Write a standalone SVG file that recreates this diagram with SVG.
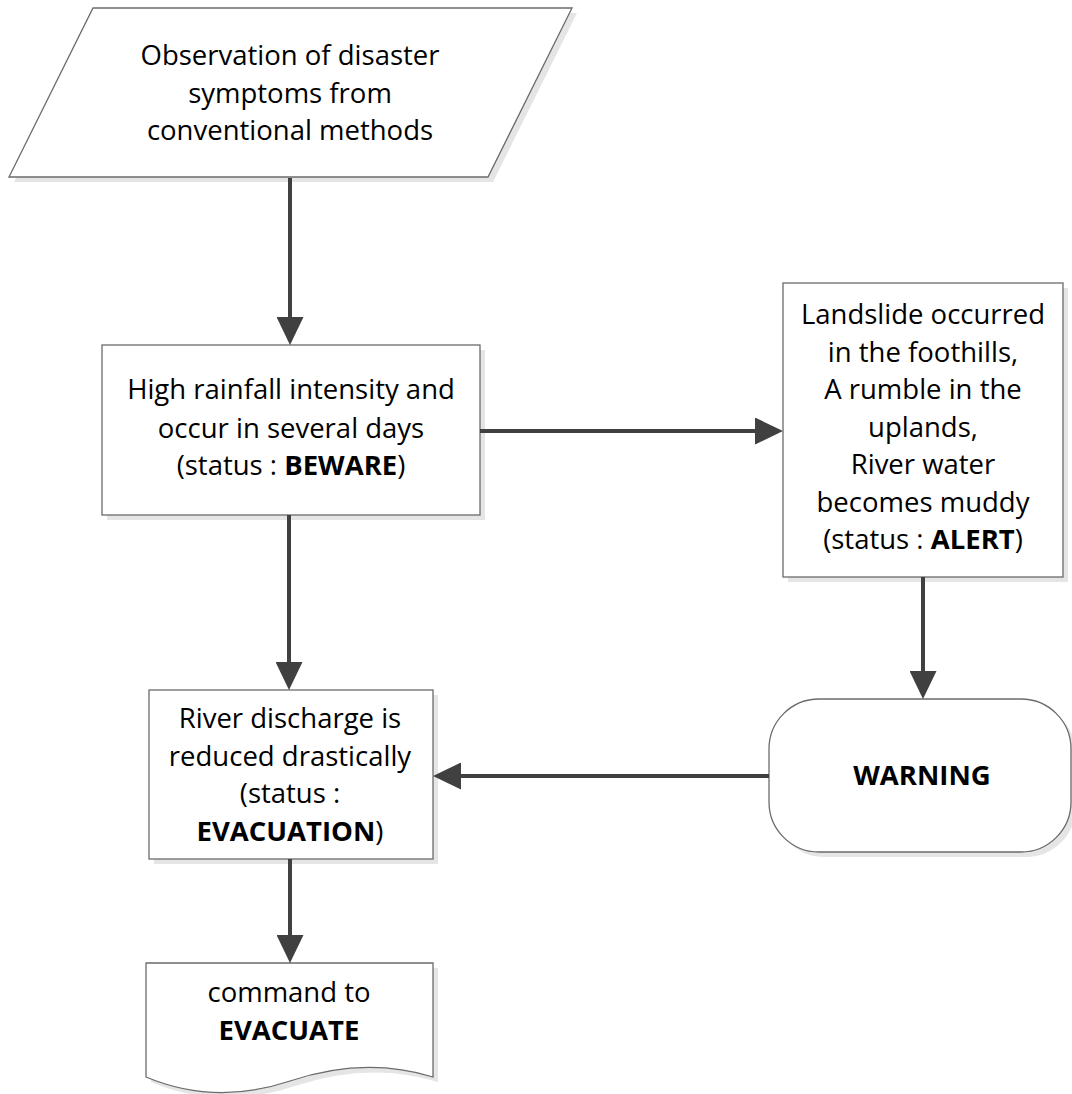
<svg xmlns="http://www.w3.org/2000/svg" xmlns:xlink="http://www.w3.org/1999/xlink" width="1072" height="1094" viewBox="0 0 1072 1094">
  <style>
    .shape { fill: #ffffff; stroke: #6b6b6b; stroke-width: 1.3; }
    .shadow { fill: #e5e5e5; stroke: none; }
    .lbl { font-family: "Open Sans", "Liberation Sans", sans-serif; font-size: 27.5px; fill: #000000; text-anchor: middle; }
    .b { font-weight: bold; }
    .conn { fill: none; stroke: #404040; stroke-width: 4; }
  </style>
  <defs>
    <marker id="arrow" markerUnits="userSpaceOnUse" markerWidth="28" markerHeight="27" refX="18" refY="13.5" orient="auto" viewBox="0 0 28 27">
      <path d="M0,0 L28,13.5 L0,27 Z" fill="#404040"/>
    </marker>
  </defs>
  <rect width="1072" height="1094" fill="#ffffff"/>

  <g id="node-observation">
    <polygon class="shadow" points="98,13 577,13 493,182 14,182"/>
    <polygon class="shape" points="93,8 572,8 488,177 9,177"/>
    <text class="lbl" x="290" y="65">Observation of disaster</text>
    <text class="lbl" x="290" y="103">symptoms from</text>
    <text class="lbl" x="290" y="140">conventional methods</text>
  </g>

  <g id="node-beware">
    <rect class="shadow" x="107" y="350" width="378" height="170"/>
    <rect class="shape" x="102" y="345" width="378" height="170"/>
    <text class="lbl" x="291" y="399">High rainfall intensity and</text>
    <text class="lbl" x="291" y="438">occur in several days</text>
    <text class="lbl" x="291" y="475">(status : <tspan class="b">BEWARE</tspan>)</text>
  </g>

  <g id="node-alert">
    <rect class="shadow" x="788" y="288" width="280" height="294"/>
    <rect class="shape" x="783" y="283" width="280" height="294"/>
    <text class="lbl" x="923" y="324">Landslide occurred</text>
    <text class="lbl" x="923" y="361.5">in the foothills,</text>
    <text class="lbl" x="923" y="399">A rumble in the</text>
    <text class="lbl" x="923" y="436.5">uplands,</text>
    <text class="lbl" x="923" y="474">River water</text>
    <text class="lbl" x="923" y="511.5">becomes muddy</text>
    <text class="lbl" x="923" y="549">(status : <tspan class="b">ALERT</tspan>)</text>
  </g>

  <g id="node-warning">
    <rect class="shadow" x="774" y="704" width="302" height="153" rx="50" ry="50"/>
    <rect class="shape" x="769" y="699" width="302" height="153" rx="50" ry="50"/>
    <text class="lbl b" x="922" y="785">WARNING</text>
  </g>

  <g id="node-evacuation">
    <rect class="shadow" x="154" y="695" width="284" height="169"/>
    <rect class="shape" x="149" y="690" width="284" height="169"/>
    <text class="lbl" x="290" y="728">River discharge is</text>
    <text class="lbl" x="290" y="765.5">reduced drastically</text>
    <text class="lbl" x="290" y="803">(status :</text>
    <text class="lbl" x="290" y="840.5"><tspan class="b">EVACUATION</tspan>)</text>
  </g>

  <g id="node-evacuate">
    <path class="shadow" d="M151,968 L438,968 L438,1082 Q370,1061 295,1086 Q220,1111 151,1082 Z"/>
    <path class="shape" d="M146,963 L433,963 L433,1077 Q365,1056 290,1081 Q215,1106 146,1077 Z"/>
    <text class="lbl" x="289" y="1002">command to</text>
    <text class="lbl b" x="289" y="1040">EVACUATE</text>
  </g>

  <g id="connectors">
    <path class="conn" d="M290,178 L290,335" marker-end="url(#arrow)"/>
    <path class="conn" d="M480,431 L773,431" marker-end="url(#arrow)"/>
    <path class="conn" d="M923,577 L923,689" marker-end="url(#arrow)"/>
    <path class="conn" d="M769,776 L443,776" marker-end="url(#arrow)"/>
    <path class="conn" d="M289,515 L289,680" marker-end="url(#arrow)"/>
    <path class="conn" d="M290,859 L290,953" marker-end="url(#arrow)"/>
  </g>
</svg>
